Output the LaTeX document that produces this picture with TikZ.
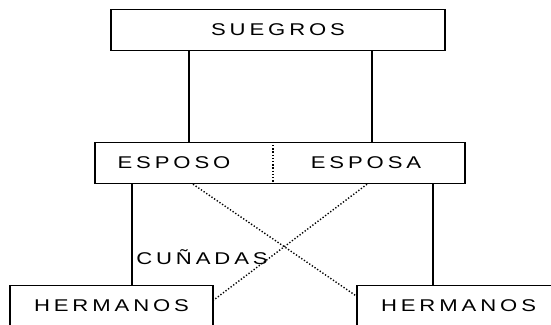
\documentclass[tikz,border=0pt]{standalone}
\usepackage{fontspec}
\setmainfont{Liberation Sans}
\usepackage{tikz}
\usetikzlibrary{positioning}
\makeatletter
\newcommand{\rotulo}[1]{\scalebox{1.3}[1]{\@tfor\letra:=#1\do{\letra\kern3pt}\kern-3pt}}
\makeatother

\begin{document}
\begin{tikzpicture}[x = 1pt, y = -1pt,
  every node/.style = {font = \fontsize{17}{20}\selectfont, inner sep = 0pt},
  caja/.style = {draw, line width = 1.4pt, minimum height = 41pt},
  linea/.style = {line width = 1.4pt},
  punteado/.style = {line width = 1.4pt, dash pattern = on 1.3pt off 1.9pt}]
\useasboundingbox (0,0) rectangle (551,324);
\clip (0,0) rectangle (551,324);
\node[caja, minimum width = 334pt] (suegros) at (278,30) {\rotulo{SUEGROS}};
\node[caja, minimum width = 370pt] (pareja) at (280,163) {};
\node (esposo) at (174,163) {\rotulo{ESPOSO}};
\node (esposa) at (366,163) {\rotulo{ESPOSA}};
\draw[punteado] ([xshift = -7pt]pareja.north) -- ([xshift = -7pt]pareja.south);
\node[caja, minimum width = 203pt] (hermIzq) at (111.5,306) {\rotulo{HERMANOS}};
\node[caja, minimum width = 203pt] (hermDer) at (458.5,306) {\rotulo{HERMANOS}};
\node (cunadas) at (202,257) {\rotulo{CUÑADAS}};
% lineas de parentesco
\draw[linea] ([xshift = -89pt]suegros.south) -- ([xshift = -89pt]suegros.south |- pareja.north);
\draw[linea] ([xshift = 94pt]suegros.south) -- ([xshift = 94pt]suegros.south |- pareja.north);
\draw[linea] ([xshift = -148pt]pareja.south) -- ([xshift = -148pt]pareja.south |- hermIzq.north);
\draw[linea] ([xshift = 153pt]pareja.south) -- ([xshift = 153pt]pareja.south |- hermDer.north);
% cunadas
\draw[punteado] ([xshift = -87pt]pareja.south) -- ([yshift = 10pt]hermDer.west);
\draw[punteado] ([xshift = 87pt]pareja.south) -- ([yshift = 6pt]hermIzq.east);
\end{tikzpicture}
\end{document}
